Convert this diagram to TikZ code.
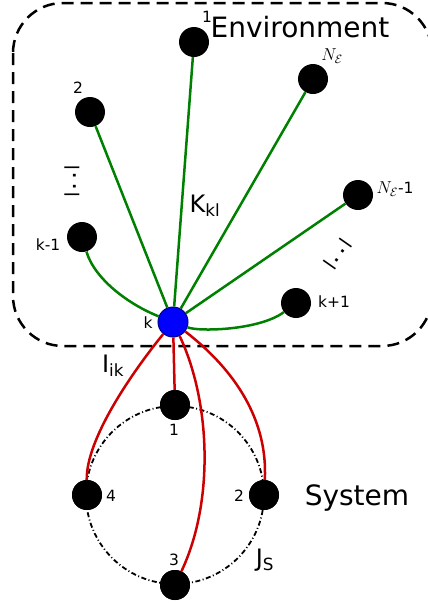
\documentclass[tikz,border=0pt]{standalone}
\usepackage{fontspec}
\setmainfont{DejaVu Sans}
\tikzset{
  site/.style={circle,fill=black,minimum size=30pt,inner sep=0pt},
  probe/.style={circle,fill=blue,draw=blue!55!black,line width=1pt,minimum size=30pt,inner sep=0pt},
  bond/.style={line width=2.5pt,green!50!black},
  link/.style={line width=2.5pt,red!80!black},
  small/.style={font=\fontsize{15.5}{18}\selectfont},
  big/.style={font=\fontsize{28}{32}\selectfont},
  mid/.style={font=\fontsize{24}{28}\selectfont},
  gap/.style={font=\fontsize{15}{18}\selectfont\bfseries,inner sep=1pt},
}
\begin{document}
\begin{tikzpicture}[x=1pt,y=1pt]
\useasboundingbox (0,0) rectangle (428,-603);
\draw[line width=2.5pt,dash pattern=on 12pt off 7pt,rounded corners=50pt] (13,-3) rectangle (432,-346);
\draw[line width=1.8pt,dash pattern=on 5pt off 2.5pt on 1pt off 2.5pt] (175,-495) circle (89);
% environment
\node[site] (e1) at (194,-42) {};
\node[site] (eN) at (313,-79) {};
\node[site] (e2) at (90,-112) {};
\node[site] (eN1) at (358,-195) {};
\node[site] (ekm) at (82,-237) {};
\node[site] (ekp) at (296,-303) {};
\node[probe] (k) at (173,-322) {};
% system
\node[site] (s1) at (175,-405) {};
\node[site] (s2) at (264,-495) {};
\node[site] (s3) at (175,-585) {};
\node[site] (s4) at (87,-495) {};
\draw[bond] (k) -- (e1);
\draw[bond] (k) -- (eN);
\draw[bond] (k) -- (e2);
\draw[bond] (k) -- (eN1);
\draw[bond] (k) .. controls (130,-305) and (95,-280) .. (ekm);
\draw[bond] (k) .. controls (200,-332) and (260,-330) .. (ekp);
\draw[link] (k) -- (s1);
\draw[link] (k) .. controls (130,-375) and (86,-440) .. (s4);
\draw[link] (k) .. controls (235,-370) and (268,-420) .. (s2);
\draw[link] (k) .. controls (210,-400) and (215,-500) .. (s3);
\node[site] at (s1) {};
\node[site] at (s2) {};
\node[site] at (s3) {};
\node[site] at (s4) {};
% labels
\node[big] (envlbl) at (300,-27) {Environment};
\node[big] (syslbl) at (357,-498) {System};
\node[small] (l1) at (207,-17) {1};
\node[small] (l2) at (78,-88) {2};
\node[font=\fontsize{17}{20}\selectfont] (lN) at (332,-56) {$N_{\mathcal{E}}$};
\node[small] (lN1) at (395,-189) {{\fontsize{17}{20}\selectfont$N_{\mathcal{E}}$}-1};
\node[small] (lkm) at (48,-245) {k-1};
\node[small] (lkp) at (334,-302) {k+1};
\node[small] (lk) at (148,-323) {k};
\node[mid] (lK) at (205,-206) {K\textsubscript{kl}};
\node[mid] (lI) at (113,-366) {I\textsubscript{ik}};
\node[mid] (lJ) at (265,-560) {J\textsubscript{S}};
\node[small] (ls1) at (174,-430) {1};
\node[small] (ls2) at (239,-496) {2};
\node[small] (ls3) at (174,-560) {3};
\node[small] (ls4) at (111,-496) {4};
\node[gap,rotate=90] (dots1) at (72,-181) {|\,.\,\,.\,|};
\node[gap,rotate=55] (dots2) at (338,-254) {|\,.\,\,.\,|};
\end{tikzpicture}
\end{document}
